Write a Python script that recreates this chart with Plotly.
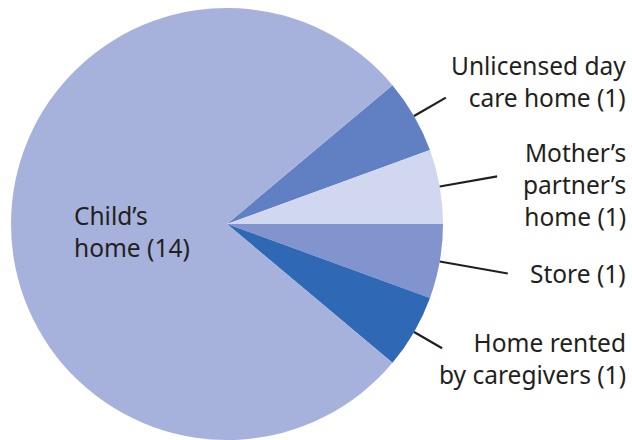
import math
import plotly.graph_objects as go

# Locations and their counts (slices run clockwise from the upper right)
locations = [
    "Unlicensed day care home",
    "Mother\u2019s partner\u2019s home",
    "Store",
    "Home rented by caregivers",
    "Child\u2019s home",
]
counts = [1, 1, 1, 1, 14]
label_lines = [
    ["Unlicensed day", "care home (1)"],
    ["Mother\u2019s", "partner\u2019s", "home (1)"],
    ["Store (1)"],
    ["Home rented", "by caregivers (1)"],
    ["Child\u2019s", "home (14)"],
]
slice_colors = ["#6180c4", "#d1d7ee", "#8294ce", "#2f68b5", "#a7b2dc"]

W, H = 632, 440
CX, CY, R = 227, 224, 216          # pie centre and radius in pixels
START_DEG = 40                      # first slice begins here (counter-clockwise from east)
FONT = dict(family="'Noto Sans', sans-serif", size=24.5, color="#231f20")

fig = go.Figure(
    go.Pie(
        labels=locations,
        values=counts,
        sort=False,
        direction="clockwise",
        rotation=90 - START_DEG,
        marker=dict(colors=slice_colors, line=dict(width=0)),
        textinfo="none",
        hoverinfo="label+value",
        domain=dict(x=[(CX - R) / W, (CX + R) / W], y=[(H - CY - R) / H, (H - CY + R) / H]),
        showlegend=False,
    )
)


def px(x, y):
    return x / W, 1 - y / H


# Leader-line lengths (multiples of the radius) and label anchor points
leader_len = [1.17, 1.27, 1.32, 1.15, None]
label_pos = [(628, 81), (628, 184), (628, 273), (628, 358), (72, 231)]

total = sum(counts)
acc = 0
for i, (loc, n) in enumerate(zip(locations, counts)):
    mid = START_DEG - 360 * (acc + n / 2) / total
    acc += n
    if leader_len[i] is not None:
        a = math.radians(mid)
        x0, y0 = CX + R * math.cos(a), CY - R * math.sin(a)
        x1, y1 = CX + R * leader_len[i] * math.cos(a), CY - R * leader_len[i] * math.sin(a)
        p0, p1 = px(x0, y0), px(x1, y1)
        fig.add_shape(type="line", xref="paper", yref="paper",
                      x0=p0[0], y0=p0[1], x1=p1[0], y1=p1[1],
                      line=dict(color="#231f20", width=2.2))
    lx, ly = label_pos[i]
    right = leader_len[i] is not None
    p = px(lx, ly)
    fig.add_annotation(
        xref="paper", yref="paper", x=p[0], y=p[1],
        xanchor="right" if right else "left", yanchor="middle",
        align="right" if right else "left",
        text="<br>".join(label_lines[i]), showarrow=False, font=FONT,
    )

fig.update_layout(
    width=W, height=H,
    margin=dict(l=0, r=0, t=0, b=0),
    paper_bgcolor="white", plot_bgcolor="white",
)

fig.write_html("out.html")
